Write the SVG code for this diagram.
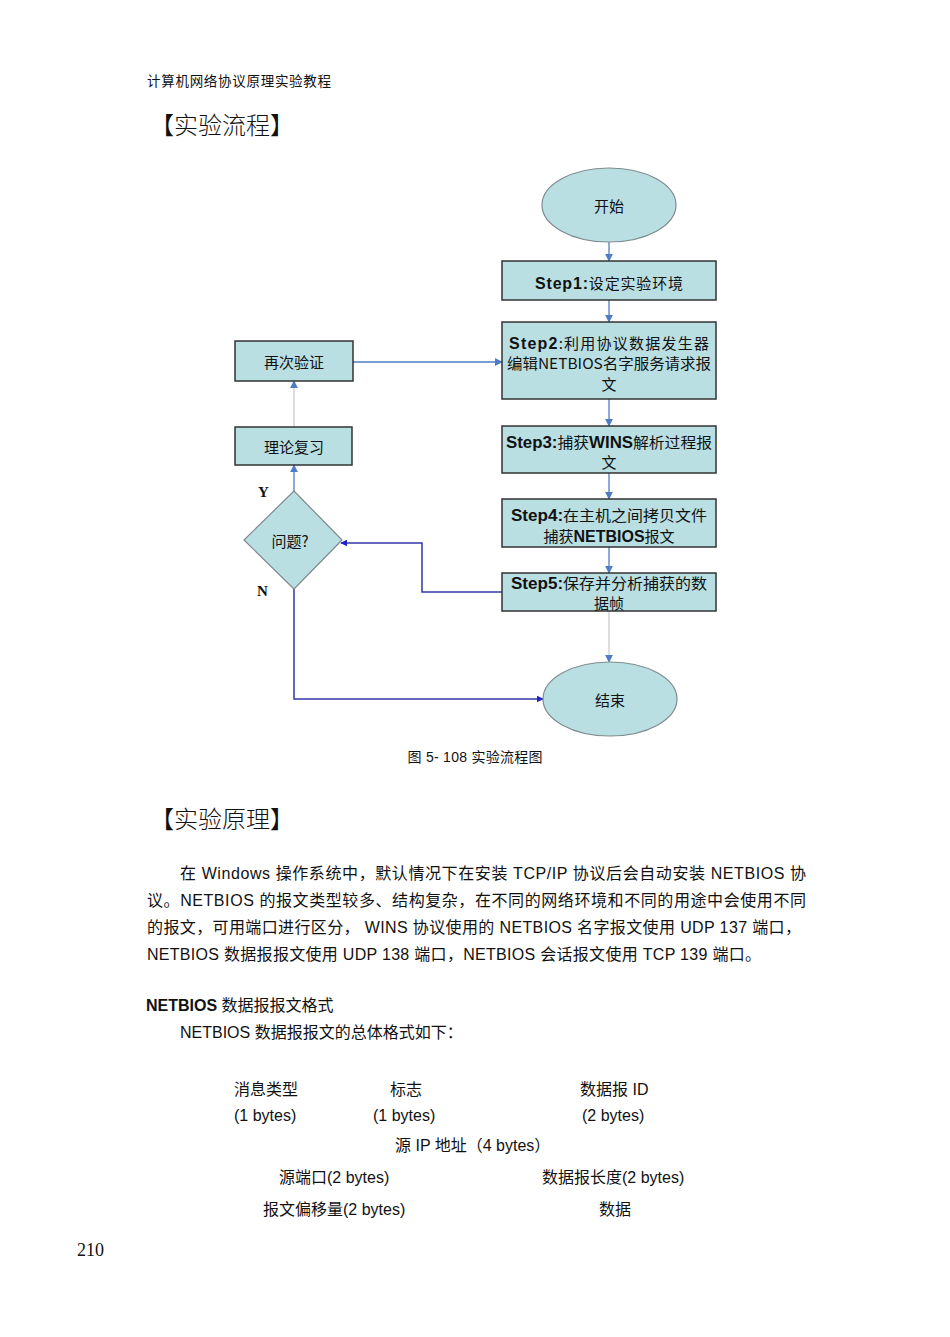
<svg xmlns="http://www.w3.org/2000/svg" width="950" height="1337" viewBox="0 0 950 1337">
<style>
text{font-family:"Liberation Sans","Noto Sans CJK SC",sans-serif;fill:#111}
.cj{font-family:"Noto Sans CJK SC","Liberation Serif",serif}
.b{font-weight:bold;font-family:"Liberation Sans",sans-serif}
.node{fill:#b9dfe3;stroke:#333;stroke-width:1.5}
.ell{fill:#b9dfe3;stroke:#7f8c8e;stroke-width:1.2}
.lbl{font-size:15px;text-anchor:middle}
.blue{stroke:#4f7cc4;stroke-width:1.3;fill:none}
.grey{stroke:#c8ccd2;stroke-width:1.3;fill:none}
.navy{stroke:#3434a8;stroke-width:1.5;fill:none}
.body{font-size:16px}
.yn{font-family:"Liberation Serif",serif;font-weight:bold;font-size:15px}
</style>
<defs>
<marker id="ab" viewBox="0 0 10 10" refX="9" refY="5" markerWidth="8" markerHeight="8" markerUnits="userSpaceOnUse" orient="auto"><path d="M0,0L10,5L0,10z" fill="#4f7cc4"/></marker>
<marker id="an" viewBox="0 0 10 10" refX="9" refY="5" markerWidth="7" markerHeight="7" markerUnits="userSpaceOnUse" orient="auto"><path d="M0,0L10,5L0,10z" fill="#2222cc"/></marker>
</defs>
<rect width="950" height="1337" fill="#fff"/>
<text x="147" y="86" class="cj" font-size="13.5" fill="#333" textLength="184" lengthAdjust="spacing">计算机网络协议原理实验教程</text>
<text x="150" y="134" class="cj" font-size="24" font-weight="300">【实验流程】</text>
<g id="connectors">
<line x1="609" y1="242" x2="609" y2="261" class="blue" marker-end="url(#ab)"/>
<line x1="609" y1="300" x2="609" y2="322" class="blue" marker-end="url(#ab)"/>
<line x1="609" y1="399" x2="609" y2="426" class="blue" marker-end="url(#ab)"/>
<line x1="609" y1="473" x2="609" y2="499" class="blue" marker-end="url(#ab)"/>
<line x1="609" y1="547" x2="609" y2="573" class="blue" marker-end="url(#ab)"/>
<line x1="609" y1="611" x2="609" y2="662" class="grey" marker-end="url(#ab)"/>
<line x1="353" y1="362" x2="502" y2="362" class="blue" marker-end="url(#ab)"/>
<line x1="294" y1="427" x2="294" y2="381" class="grey" marker-end="url(#ab)"/>
<line x1="294" y1="491" x2="294" y2="465" class="blue" marker-end="url(#ab)"/>
<polyline points="502,592 422,592 422,543 341,543" class="navy" marker-end="url(#an)"/>
<polyline points="294,589 294,699 543,699" class="navy" marker-end="url(#an)"/>
</g>
<g id="start">
<ellipse cx="609" cy="205" rx="67" ry="37" class="ell"/>
<text x="609" y="212" class="lbl cj">开始</text>
</g>
<g id="step1">
<rect x="502" y="261" width="214" height="39" class="node"/>
<text x="609" y="289" class="lbl" textLength="148" lengthAdjust="spacing"><tspan class="b" font-size="16">Step1:</tspan><tspan class="cj">设定实验环境</tspan></text>
</g>
<g id="step2">
<rect x="502" y="322" width="214" height="77" class="node"/>
<text x="609" y="349" class="lbl" textLength="200" lengthAdjust="spacing"><tspan class="b" font-size="16">Step2</tspan><tspan class="cj">:利用协议数据发生器</tspan></text>
<text x="609" y="369" class="lbl cj" textLength="204" lengthAdjust="spacingAndGlyphs">编辑NETBIOS名字服务请求报</text>
<text x="609" y="390" class="lbl cj">文</text>
</g>
<g id="step3">
<rect x="502" y="426" width="214" height="47" class="node"/>
<text x="609" y="448" class="lbl" textLength="206" lengthAdjust="spacingAndGlyphs"><tspan class="b" font-size="16">Step3:</tspan><tspan class="cj">捕获</tspan><tspan class="b" font-size="16">WINS</tspan><tspan class="cj">解析过程报</tspan></text>
<text x="609" y="468" class="lbl cj">文</text>
</g>
<g id="step4">
<rect x="502" y="499" width="214" height="48" class="node"/>
<text x="609" y="521" class="lbl" textLength="196" lengthAdjust="spacingAndGlyphs"><tspan class="b" font-size="16">Step4:</tspan><tspan class="cj">在主机之间拷贝文件</tspan></text>
<text x="609" y="542" class="lbl"><tspan class="cj">捕获</tspan><tspan class="b" font-size="16">NETBIOS</tspan><tspan class="cj">报文</tspan></text>
</g>
<g id="step5">
<rect x="502" y="573" width="214" height="38" class="node"/>
<text x="609" y="589" class="lbl" textLength="196" lengthAdjust="spacingAndGlyphs"><tspan class="b" font-size="16">Step5:</tspan><tspan class="cj">保存并分析捕获的数</tspan></text>
<text x="609" y="609" class="lbl cj">据帧</text>
</g>
<g id="end">
<ellipse cx="610" cy="699" rx="67" ry="37" class="ell"/>
<text x="610" y="706" class="lbl cj">结束</text>
</g>
<g id="reverify">
<rect x="235" y="341" width="118" height="40" class="node"/>
<text x="294" y="368" class="lbl cj">再次验证</text>
</g>
<g id="review">
<rect x="235" y="427" width="117" height="38" class="node"/>
<text x="294" y="453" class="lbl cj">理论复习</text>
</g>
<g id="decision">
<path d="M294,491 L342,540 L294,589 L244,540 Z" fill="#b9dfe3" stroke="#7f8c8e" stroke-width="1.2" stroke-linejoin="round"/>
<text x="290" y="547" class="lbl cj">问题?</text>
</g>
<text x="258" y="497" class="yn">Y</text>
<text x="257" y="596" class="yn">N</text>
<text x="475" y="762" font-size="14" text-anchor="middle" fill="#333" textLength="135" lengthAdjust="spacing">图 5- 108  实验流程图</text>
<text x="150" y="828" class="cj" font-size="24" font-weight="300">【实验原理】</text>
<text x="180" y="879" class="body" textLength="626" lengthAdjust="spacing">在 Windows 操作系统中，默认情况下在安装 TCP/IP 协议后会自动安装 NETBIOS 协</text>
<text x="147" y="906" class="body" textLength="659" lengthAdjust="spacing">议。NETBIOS 的报文类型较多、结构复杂，在不同的网络环境和不同的用途中会使用不同</text>
<text x="147" y="933" class="body" textLength="654" lengthAdjust="spacing">的报文，可用端口进行区分， WINS  协议使用的 NETBIOS 名字报文使用 UDP 137 端口，</text>
<text x="147" y="960" class="body" textLength="614" lengthAdjust="spacing">NETBIOS 数据报报文使用 UDP 138 端口，NETBIOS 会话报文使用 TCP 139 端口。</text>
<text x="146" y="1011" class="body"><tspan class="b">NETBIOS</tspan> 数据报报文格式</text>
<text x="180" y="1038" class="body">NETBIOS 数据报报文的总体格式如下：</text>
<g class="body">
<text x="234" y="1095" class="body">消息类型</text>
<text x="390" y="1095" class="body">标志</text>
<text x="580" y="1095" class="body">数据报 ID</text>
<text x="234" y="1121" class="body">(1 bytes)</text>
<text x="373" y="1121" class="body">(1 bytes)</text>
<text x="582" y="1121" class="body">(2 bytes)</text>
<text x="395" y="1151" class="body">源 IP 地址（4 bytes）</text>
<text x="279" y="1183" class="body">源端口(2 bytes)</text>
<text x="542" y="1183" class="body">数据报长度(2 bytes)</text>
<text x="263" y="1215" class="body">报文偏移量(2 bytes)</text>
<text x="599" y="1215" class="body">数据</text>
</g>
<text x="77" y="1256" font-size="18" style="font-family:'Liberation Serif',serif">210</text>
</svg>
